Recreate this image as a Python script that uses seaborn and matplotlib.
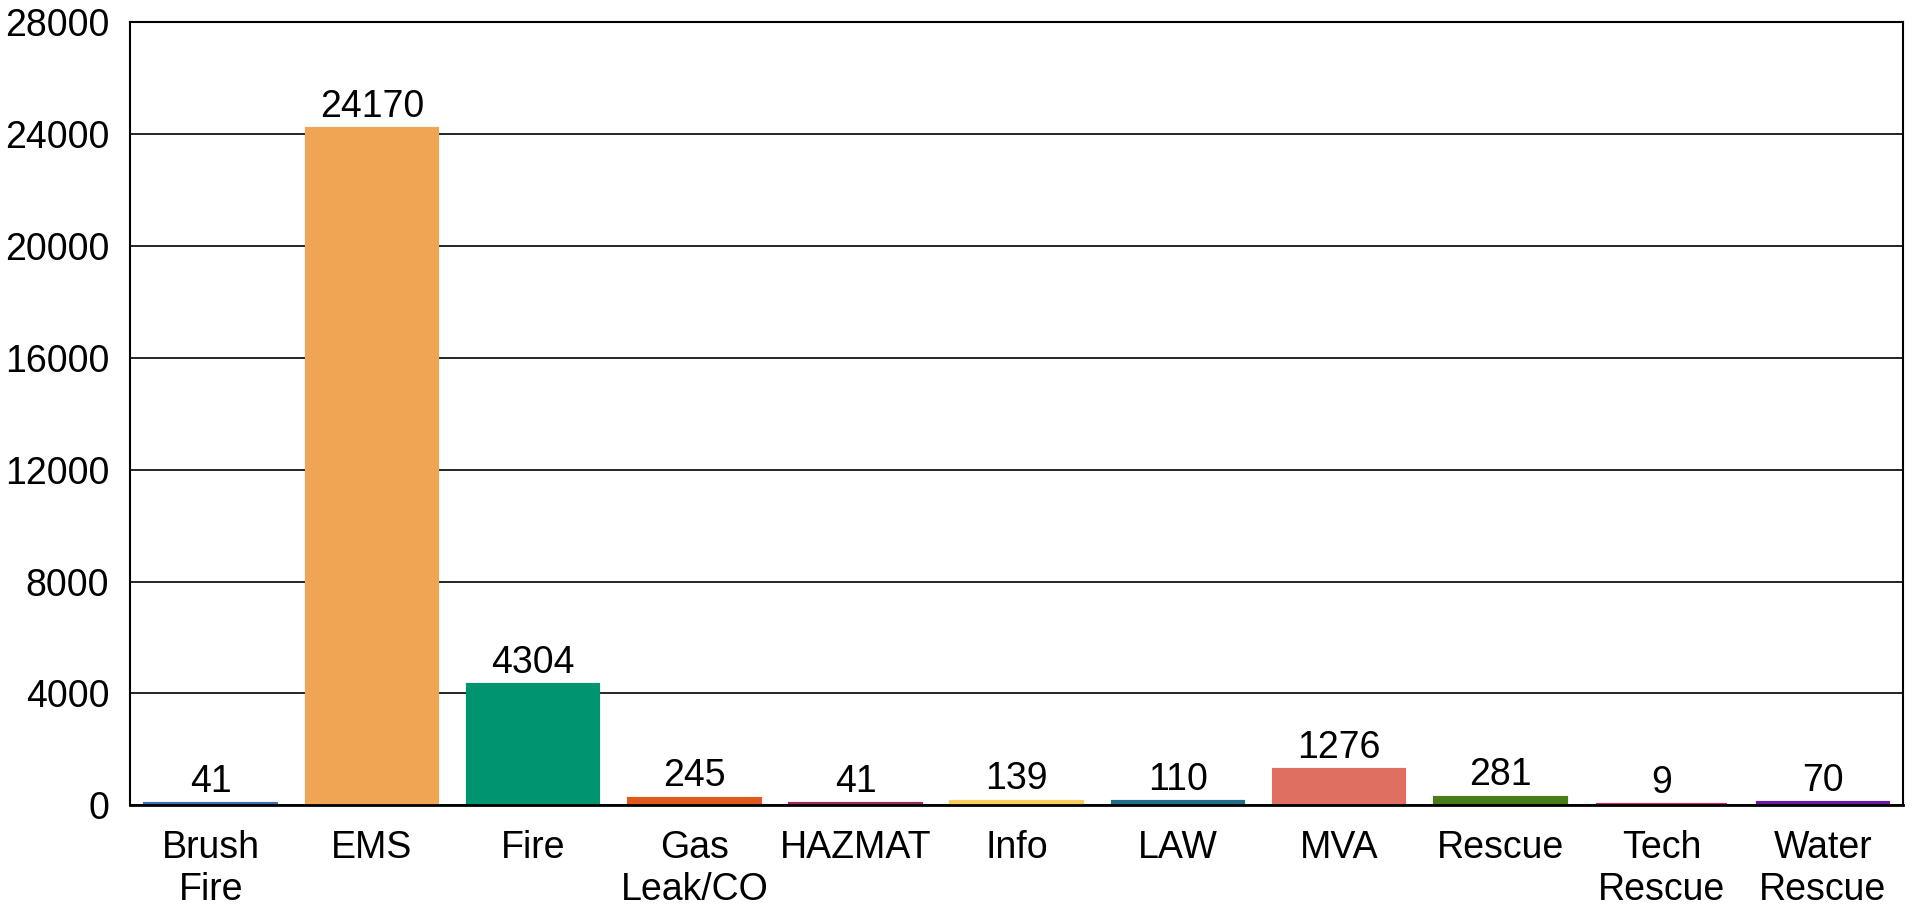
import matplotlib
matplotlib.use('Agg')
import matplotlib.pyplot as plt
import seaborn as sns
import pandas as pd

# Call counts by incident type
categories = ['Brush\nFire', 'EMS', 'Fire', 'Gas\nLeak/CO', 'HAZMAT', 'Info',
              'LAW', 'MVA', 'Rescue', 'Tech\nRescue', 'Water\nRescue']
counts = [41, 24170, 4304, 245, 41, 139, 110, 1276, 281, 9, 70]
colors = ['#3f6fb0', '#f0a555', '#009471', '#e0591f', '#9e2b5e', '#fbcb5e',
          '#1f6f8b', '#de6f61', '#4a7c17', '#d42b5b', '#6a1baa']
yticks = [0, 4000, 8000, 12000, 16000, 20000, 24000, 28000]

df = pd.DataFrame({'type': categories, 'count': counts})

sns.set_style('white')
plt.rcParams['font.family'] = ['Liberation Sans', 'DejaVu Sans']
plt.rcParams['text.color'] = 'black'
plt.rcParams['xtick.color'] = 'black'
plt.rcParams['ytick.color'] = 'black'

fig, ax = plt.subplots(figsize=(19.13, 9.08), dpi=100)
fig.subplots_adjust(left=0.068, right=0.995, top=0.976, bottom=0.113)

sns.barplot(data=df, x='type', y='count', hue='type', palette=colors,
            width=0.81, legend=False, saturation=1, ax=ax)

# outline in the bar's own colour so tiny bars stay visible above the axis
for patch, col in zip(ax.patches, colors):
    patch.set_edgecolor(col)
    patch.set_linewidth(3)

for c in ax.containers:
    ax.bar_label(c, fontsize=27, padding=3, color='black')

ax.set_ylim(0, 28000)
ax.set_yticks(yticks)
ax.set_xlim(-0.5, len(categories) - 0.5)
ax.yaxis.grid(True, color='black', linewidth=1.2)
ax.set_axisbelow(True)
for s in ax.spines.values():
    s.set_color('black')
    s.set_linewidth(1.5)
ax.spines['bottom'].set_linewidth(2)
ax.tick_params(axis='both', labelsize=27, length=0, labelcolor='black')
ax.tick_params(axis='y', pad=15)
ax.tick_params(axis='x', pad=18)
ax.set_xlabel('')
ax.set_ylabel('')

fig.savefig('out.png', dpi=100)
